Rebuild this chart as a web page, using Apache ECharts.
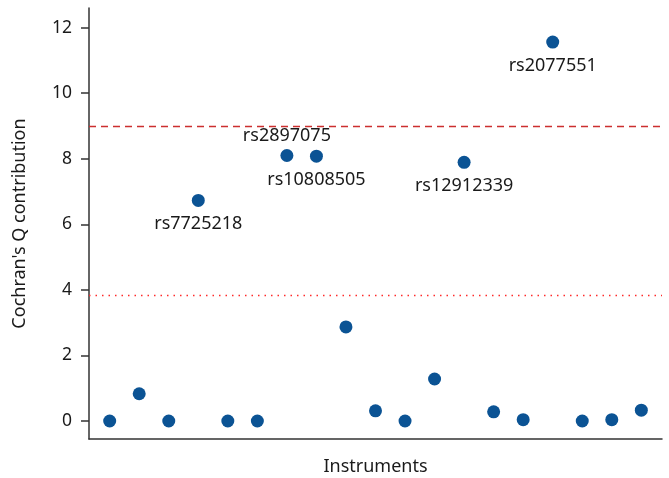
<!DOCTYPE html>
<html>
<head>
<meta charset="utf-8">
<script src="https://cdn.jsdelivr.net/npm/echarts@6/dist/echarts.min.js"></script>
<style>
html,body{margin:0;padding:0;background:#fff;}
#chart{width:669px;height:478px;}
</style>
</head>
<body>
<div id="chart"></div>
<script>
// Instrument index (x position) and Cochran's Q contribution
const instrumentIndex = [1,2,3,4,5,6,7,8,9,10,11,12,13,14,15,16,17,18,19];
const qContribution = [0.0, 0.83, 0.0, 6.73, 0.0, 0.0, 8.1, 8.08, 2.87, 0.31, 0.0, 1.28, 7.89, 0.28, 0.04, 11.56, 0.0, 0.04, 0.33];
const snpLabels = ['', '', '', 'rs7725218', '', '', 'rs2897075', 'rs10808505', '', '', '', '', 'rs12912339', '', '', 'rs2077551', '', '', ''];
const labelSide = ['', '', '', 'bottom', '', '', 'top', 'bottom', '', '', '', '', 'bottom', '', '', 'bottom', '', '', ''];
const yTicks = [0, 2, 4, 6, 8, 10, 12];
const thresholdDashed = 9.0;
const thresholdDotted = 3.84;

const FONT = 'Noto Sans';
const data = instrumentIndex.map((x, i) => {
  const item = { value: [x, qContribution[i]] };
  if (snpLabels[i]) {
    item.label = {
      show: true,
      formatter: snpLabels[i],
      position: labelSide[i],
      distance: labelSide[i] === 'top' ? 4 : 8
    };
  }
  return item;
});

const chart = echarts.init(document.getElementById('chart'), null, { renderer: 'canvas' });
chart.setOption({
  animation: false,
  backgroundColor: '#fff',
  grid: { left: 89, right: 7, top: 8, bottom: 39, containLabel: false, outerBoundsMode: 'none' },
  xAxis: {
    type: 'value',
    min: 0.3,
    max: 19.7,
    name: 'Instruments',
    nameLocation: 'middle',
    nameGap: 19,
    nameTextStyle: { fontFamily: FONT, fontSize: 18, color: '#1a1a1a', verticalAlign: 'top' },
    axisLine: { show: true, onZero: false, lineStyle: { color: '#333', width: 1.5 } },
    axisTick: { show: false },
    axisLabel: { show: false },
    splitLine: { show: false }
  },
  yAxis: {
    type: 'value',
    min: -0.55,
    max: 12.6,
    name: "Cochran's Q contribution",
    nameLocation: 'middle',
    nameGap: 60,
    nameRotate: 90,
    nameTextStyle: { fontFamily: FONT, fontSize: 18, color: '#1a1a1a' },
    axisLine: { show: true, onZero: false, lineStyle: { color: '#333', width: 1.5 } },
    axisTick: { show: true, length: 8, customValues: yTicks, lineStyle: { color: '#333', width: 1.5 } },
    axisLabel: { show: true, customValues: yTicks, margin: 17, fontFamily: FONT, fontSize: 17.5, color: '#1a1a1a' },
    splitLine: { show: false }
  },
  series: [{
    type: 'scatter',
    data: data,
    symbol: 'circle',
    symbolSize: 13,
    itemStyle: { color: '#0b5394', opacity: 1 },
    label: { fontFamily: FONT, fontSize: 18, color: '#1a1a1a' },
    markLine: {
      silent: true,
      symbol: ['none', 'none'],
      label: { show: false },
      lineStyle: { opacity: 1 },
      data: [
        { yAxis: thresholdDashed, lineStyle: { color: '#cc2f2f', type: [7, 5], width: 1.3, opacity: 1 } },
        { yAxis: thresholdDotted, lineStyle: { color: '#ff2a2a', type: [1.5, 5], width: 1.3, opacity: 1 } }
      ]
    },
    z: 3
  }]
});
</script>
</body>
</html>
